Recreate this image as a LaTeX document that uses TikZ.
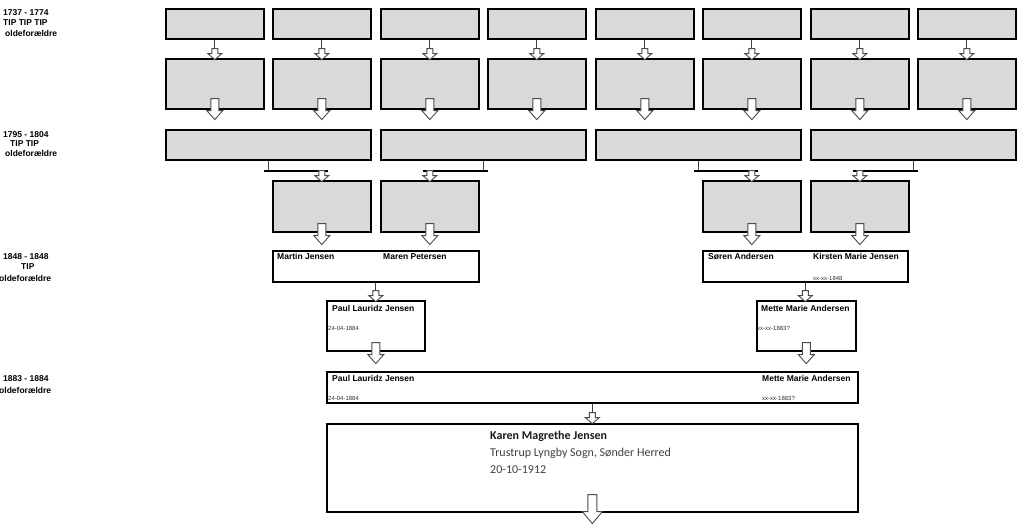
\documentclass[tikz,border=0pt]{standalone}
\usepackage{fontspec}
\setmainfont{Liberation Sans}
\newfontfamily\carlito{Carlito}
\usetikzlibrary{calc}
\definecolor{boxgray}{HTML}{D9D9D9}
\definecolor{txtgray}{HTML}{404040}
\begin{document}
\begin{tikzpicture}[x=1pt,y=-1pt,
 gbox/.style={draw=black,line width=1.6pt,fill=boxgray,anchor=north west,inner sep=0pt},
 wbox/.style={draw=black,line width=1.6pt,fill=white,anchor=north west,inner sep=0pt},
 conn/.style={draw=black!75,line width=1pt},
 bar/.style={draw=black,line width=2pt},
 harr/.style={draw=black!70,line width=0.9pt,fill=white,line join=miter},
 sarr/.pic={\path[harr] (-3,0) -- (3,0) -- (3,5) -- (7,5) -- (0,11) -- (-7,5) -- (-3,5) -- cycle;},
 barr/.pic={\path[harr] (-4,0) -- (4,0) -- (4,12) -- (8,12) -- (0,21) -- (-8,12) -- (-4,12) -- cycle;},
 karr/.pic={\path[harr] (-4.5,0) -- (4.5,0) -- (4.5,17) -- (10,17) -- (0,29) -- (-10,17) -- (-4.5,17) -- cycle;},
 lab/.style={anchor=base west,inner sep=0pt,font=\fontsize{8.5}{10}\selectfont\bfseries},
 dat/.style={anchor=base west,inner sep=0pt,font=\fontsize{6}{7}\selectfont,text=black!80},
 big/.style={anchor=base west,inner sep=0pt,font=\carlito\fontsize{12}{14}\selectfont},
]
\fill[white] (0,0) rectangle (1024,526);
\useasboundingbox (0,0) rectangle (1024,526);

% left labels
\node[lab] (y1a) at (3,16) {1737 - 1774};
\node[lab] (y1b) at (3,26) {TIP TIP TIP};
\node[lab] (y1c) at (5,37) {oldeforældre};
\node[lab] (y2a) at (3,138) {1795 - 1804};
\node[lab] (y2b) at (10,147) {TIP TIP};
\node[lab] (y2c) at (5,157) {oldeforældre};
\node[lab] (y3a) at (3,259.5) {1848 - 1848};
\node[lab] (y3b) at (21,269.5) {TIP};
\node[lab] (y3c) at (-1,281) {oldeforældre};
\node[lab] (y4a) at (3,381) {1883 - 1884};
\node[lab] (y4c) at (-1,393) {oldeforældre};

% rows 1 and 2
\foreach \i/\x in {1/165,2/272,3/380,4/487,5/595,6/702,7/810,8/917}{
  \node[gbox,minimum width=98pt,minimum height=30pt] (t\i) at (\x,8) {};
  \node[gbox,minimum width=98pt,minimum height=50pt] (m\i) at (\x,58) {};
}
% row 3
\foreach \i/\x in {1/165,2/380,3/595,4/810}{
  \node[gbox,minimum width=205pt,minimum height=30pt] (r\i) at (\x,129) {};
}
% row 4
\foreach \i/\x in {1/272,2/380,3/702,4/810}{
  \node[gbox,minimum width=98pt,minimum height=51pt] (q\i) at (\x,180) {};
}
% row 5
\node[wbox,minimum width=206pt,minimum height=31pt] (p1) at (272,250) {};
\node[wbox,minimum width=205pt,minimum height=31pt] (p2) at (702,250) {};
% row 6
\node[wbox,minimum width=98pt,minimum height=50pt] (g1) at (326,300) {};
\node[wbox,minimum width=99pt,minimum height=50pt] (g2) at (756,300) {};
% row 7
\node[wbox,minimum width=531pt,minimum height=31pt] (f1) at (326,371) {};
% row 8
\node[wbox,minimum width=531pt,minimum height=88pt] (k) at (326,423) {};

% texts
\node[lab] (n1) at (277,260) {Martin Jensen};
\node[lab] (n2) at (383,260) {Maren Petersen};
\node[lab] (n3) at (708,260) {Søren Andersen};
\node[lab] (n4) at (813,260) {Kirsten Marie Jensen};
\node[dat] (d4) at (813,280) {xx-xx-1848};
\node[lab] (n5) at (332,312) {Paul Lauridz Jensen};
\node[dat] (d5) at (328,330) {24-04-1884};
\node[lab] (n6) at (761,312) {Mette Marie Andersen};
\node[dat] (d6) at (757,330) {xx-xx-1883?};
\node[lab] (n7) at (332,381) {Paul Lauridz Jensen};
\node[lab] (n8) at (762,381) {Mette Marie Andersen};
\node[dat] (d7) at (328,400) {24-04-1884};
\node[dat] (d8) at (762,400) {xx-xx-1883?};
\node[big,text=black!90,font=\carlito\fontsize{12}{14}\selectfont\bfseries] (k1) at (490,439) {Karen Magrethe Jensen};
\node[big,text=txtgray] (k2) at (490,456) {Trustrup Lyngby Sogn, Sønder Herred};
\node[big,text=txtgray] (k3) at (490,473) {20-10-1912};

% connectors rows 1-2-3
\foreach \i in {1,...,8}{
  \draw[conn] (t\i.south) -- ++(0,9) coordinate (ta\i);
  \pic at (ta\i) {sarr};
  \pic at ($(m\i.south)+(0,-11)$) {barr};
}
% row 3 -> row 4
\draw[conn] (r1.south) -- ++(0,10) coordinate (v1);
\draw[bar] ($(v1)+(-4,0)$) -- ($(v1 -| q1.north)+(6,0)$);
\pic at (v1 -| q1.north) {sarr};
\draw[conn] (r2.south) -- ++(0,10) coordinate (v2);
\draw[bar] ($(v2 -| q2.north)+(-7,0)$) -- ($(v2)+(5,0)$);
\pic at (v2 -| q2.north) {sarr};
\draw[conn] (r3.south) -- ++(0,10) coordinate (v3);
\draw[bar] ($(v3)+(-4,0)$) -- ($(v3 -| q3.north)+(6,0)$);
\pic at (v3 -| q3.north) {sarr};
\draw[conn] (r4.south) -- ++(0,10) coordinate (v4);
\draw[bar] ($(v4 -| q4.north)+(-7,0)$) -- ($(v4)+(5,0)$);
\pic at (v4 -| q4.north) {sarr};
% row 4 -> row 5
\foreach \i in {1,...,4}{
  \pic at ($(q\i.south)+(0,-9)$) {barr};
}
% row 5 -> row 6
\draw[conn] (p1.south) -- ++(0,8) coordinate (u1);
\pic at (u1) {sarr};
\draw[conn] (p2.south) -- ++(0,8) coordinate (u2);
\pic at (u2) {sarr};
% row 6 -> row 7
\pic at ($(g1.south)+(0,-9)$) {barr};
\pic at ($(g2.south)+(0,-9)$) {barr};
% row 7 -> row 8
\draw[conn] (f1.south) -- ++(0,9) coordinate (w);
\pic at (w) {sarr};
\pic at ($(k.south)+(0,-18)$) {karr};
\end{tikzpicture}
\end{document}
